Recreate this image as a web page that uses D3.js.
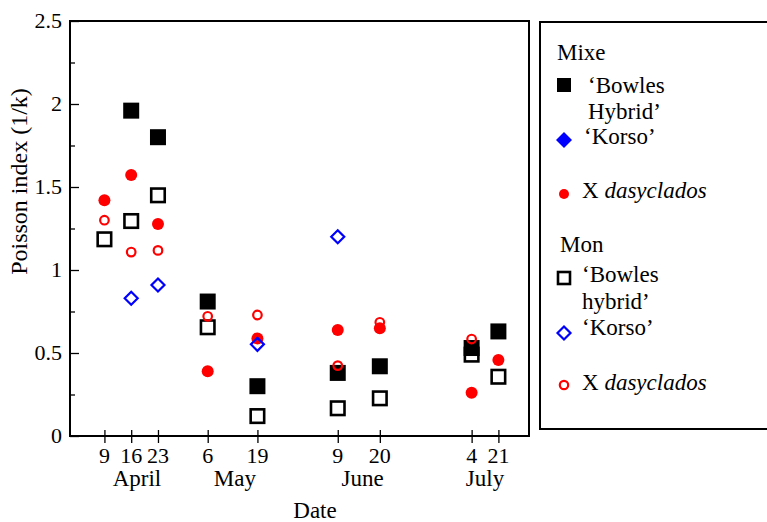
<!DOCTYPE html>
<html>
<head>
<meta charset="utf-8">
<script src="https://cdn.jsdelivr.net/npm/d3@7"></script>
<style>
  html, body { margin: 0; padding: 0; background: #fff; }
  svg { display: block; font-family: "Liberation Serif", "Times New Roman", serif; }
</style>
</head>
<body>
<svg id="chart" width="767" height="522"></svg>
<script>
// Sampling dates as day of year, with their day-of-month tick labels
const sampleDays = [99, 106, 113, 126, 139, 160, 171, 195, 202];
const dayLabels = ["9", "16", "23", "6", "19", "9", "20", "4", "21"];
const months = ["April", "May", "June", "July"];
const monthCentres = [107.5, 133.1, 166.5, 198.5];

const yTicks = [0, 0.5, 1, 1.5, 2, 2.5];
const yTickLabels = ["0", "0.5", "1", "1.5", "2", "2.5"];
const yMinorTicks = [0.25, 0.75, 1.25, 1.75, 2.25];

// Poisson index (1/k) per sampling date; null = not sampled
const mixeBowles = [null, 1.96, 1.80, 0.81, 0.30, 0.38, 0.42, 0.53, 0.63];
const mixeKorso = [null, null, null, null, null, null, null, null, null];
const mixeDasy = [1.42, 1.572, 1.277, 0.39, 0.588, 0.638, 0.649, 0.26, 0.458];
const monBowles = [1.185, 1.295, 1.45, 0.655, 0.12, 0.167, 0.227, 0.49, 0.357];
const monKorso = [null, 0.83, 0.91, null, 0.552, 1.20, null, null, null];
const monDasy = [1.30, 1.108, 1.118, 0.721, 0.729, 0.424, 0.685, 0.584, null];

const svg = d3.select("#chart");
const plotL = 70, plotR = 529, plotT = 21, plotB = 436;

const x = d3.scaleLinear().domain([90, 210]).range([plotL, plotR]);
const y = d3.scaleLinear().domain([0, 2.5]).range([plotB, plotT]);

const pts = vals => sampleDays.map((d, i) => ({ d, v: vals[i] })).filter(p => p.v != null);

// Plot frame
svg.append("rect")
  .attr("x", plotL).attr("y", plotT)
  .attr("width", plotR - plotL).attr("height", plotB - plotT)
  .attr("fill", "none").attr("stroke", "#000").attr("stroke-width", 2);

// Y axis: inward major and minor ticks
const yAxis = svg.append("g").attr("transform", `translate(${plotL},0)`);
yAxis.call(d3.axisRight(y).tickValues(yTicks).tickSize(9).tickFormat(""))
  .call(g => g.select(".domain").remove())
  .call(g => g.selectAll("line").attr("stroke-width", 1.3));
yAxis.append("g")
  .call(d3.axisRight(y).tickValues(yMinorTicks).tickSize(5).tickFormat(""))
  .call(g => g.select(".domain").remove())
  .call(g => g.selectAll("line").attr("stroke-width", 1.3));

svg.append("g").selectAll("text").data(yTicks).join("text")
  .attr("x", 62).attr("y", d => y(d) + 7)
  .attr("text-anchor", "end").attr("font-size", 22)
  .text((d, i) => yTickLabels[i]);

// X axis: ticks crossing the baseline
const xAxis = svg.append("g").attr("transform", `translate(0,${plotB})`);
xAxis.call(d3.axisBottom(x).tickValues(sampleDays).tickSize(7).tickFormat(""))
  .call(g => g.select(".domain").remove())
  .call(g => g.selectAll("line").attr("y1", -6).attr("stroke-width", 1.3));

svg.append("g").selectAll("text").data(sampleDays).join("text")
  .attr("x", d => x(d)).attr("y", 463)
  .attr("text-anchor", "middle").attr("font-size", 22)
  .text((d, i) => dayLabels[i]);

svg.append("g").selectAll("text").data(months).join("text")
  .attr("x", (d, i) => x(monthCentres[i])).attr("y", 486)
  .attr("text-anchor", "middle").attr("font-size", 23)
  .text(d => d);

svg.append("text")
  .attr("x", 315).attr("y", 518)
  .attr("text-anchor", "middle").attr("font-size", 23)
  .text("Date");

svg.append("text")
  .attr("transform", `translate(27,${(plotT + plotB) / 2 - 47}) rotate(-90)`)
  .attr("text-anchor", "middle").attr("font-size", 24)
  .text("Poisson index (1/k)");

// Marker helpers
const diamondPath = h => `M0,${-h}L${h},0L0,${h}L${-h},0Z`;

function squares(g, data, side, filled) {
  g.selectAll(null).data(data).join("rect")
    .attr("x", p => x(p.d) - side / 2).attr("y", p => y(p.v) - side / 2)
    .attr("width", side).attr("height", side)
    .attr("fill", filled ? "#000" : "none")
    .attr("stroke", filled ? "none" : "#000")
    .attr("stroke-width", filled ? 0 : 2.6);
}
function circles(g, data, r, filled) {
  g.selectAll(null).data(data).join("circle")
    .attr("cx", p => x(p.d)).attr("cy", p => y(p.v)).attr("r", r)
    .attr("fill", filled ? "#ff0000" : "none")
    .attr("stroke", filled ? "none" : "#ff0000")
    .attr("stroke-width", filled ? 0 : 2.2);
}
function diamonds(g, data, h, filled) {
  g.selectAll(null).data(data).join("path")
    .attr("transform", p => `translate(${x(p.d)},${y(p.v)})`)
    .attr("d", diamondPath(h))
    .attr("fill", filled ? "#0000ff" : "none")
    .attr("stroke", filled ? "none" : "#0000ff")
    .attr("stroke-width", filled ? 0 : 2.2);
}

const marks = svg.append("g");
squares(marks.append("g"), pts(monBowles), 13.5, false);
squares(marks.append("g"), pts(mixeBowles), 16, true);
circles(marks.append("g"), pts(monDasy), 4.3, false);
circles(marks.append("g"), pts(mixeDasy), 6, true);
diamonds(marks.append("g"), pts(mixeKorso), 8, true);
diamonds(marks.append("g"), pts(monKorso), 6.5, false);

// Legend
const legend = svg.append("g");
legend.append("rect")
  .attr("x", 540).attr("y", 22).attr("width", 260).attr("height", 407)
  .attr("fill", "none").attr("stroke", "#000").attr("stroke-width", 2);

const lt = (xx, yy, t) => legend.append("text")
  .attr("x", xx).attr("y", yy).attr("font-size", 23).text(t);

lt(557, 60, "Mixe");
legend.append("rect").attr("x", 557).attr("y", 78).attr("width", 14).attr("height", 14).attr("fill", "#000");
lt(588, 93, "\u2018Bowles");
lt(588, 119, "Hybrid\u2019");
legend.append("path").attr("transform", "translate(564,140)").attr("d", diamondPath(8)).attr("fill", "#0000ff");
lt(584, 144, "\u2018Korso\u2019");
legend.append("circle").attr("cx", 564).attr("cy", 194).attr("r", 5).attr("fill", "#ff0000");
const d1 = lt(582, 198, "X ");
d1.append("tspan").attr("font-style", "italic").text("dasyclados");

lt(560, 252, "Mon");
legend.append("rect").attr("x", 558).attr("y", 272).attr("width", 12).attr("height", 12)
  .attr("fill", "none").attr("stroke", "#000").attr("stroke-width", 2.6);
lt(582, 282, "\u2018Bowles");
lt(582, 309, "hybrid\u2019");
legend.append("path").attr("transform", "translate(564,333)").attr("d", diamondPath(6.5))
  .attr("fill", "none").attr("stroke", "#0000ff").attr("stroke-width", 2.2);
lt(582, 335, "\u2018Korso\u2019");
legend.append("circle").attr("cx", 564).attr("cy", 385).attr("r", 4.2)
  .attr("fill", "none").attr("stroke", "#ff0000").attr("stroke-width", 2.2);
const d2 = lt(582, 390, "X ");
d2.append("tspan").attr("font-style", "italic").text("dasyclados");
</script>
</body>
</html>
